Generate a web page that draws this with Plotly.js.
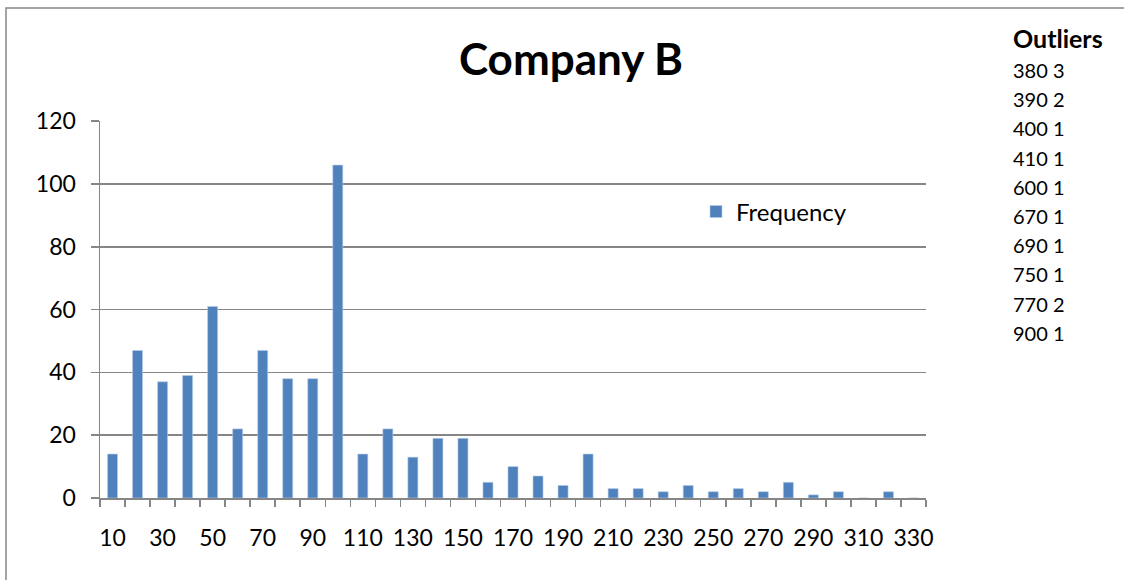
<!DOCTYPE html>
<html>
<head>
<meta charset="utf-8">
<script src="https://cdn.plot.ly/plotly-3.0.1.min.js"></script>
<style>
  html, body { margin: 0; padding: 0; background: #ffffff; }
  #chart { width: 1124px; height: 580px; }
</style>
</head>
<body>
<div id="chart"></div>
<script>
// Histogram bins (upper edge of each 10-wide bin) and their counts
const bins = [10, 20, 30, 40, 50, 60, 70, 80, 90, 100, 110, 120, 130, 140, 150, 160, 170,
              180, 190, 200, 210, 220, 230, 240, 250, 260, 270, 280, 290, 300, 310, 320, 330];
const frequency = [14, 47, 37, 39, 61, 22, 47, 38, 38, 106, 14, 22, 13, 19, 19, 5, 10,
                   7, 4, 14, 3, 3, 2, 4, 2, 3, 2, 5, 1, 2, 0, 2, 0];

// Values beyond the charted range, listed beside the chart
const outlierValues = [380, 390, 400, 410, 600, 670, 690, 750, 770, 900];
const outlierCounts = [3, 2, 1, 1, 1, 1, 1, 1, 2, 1];

const tickLabels = bins.filter((b, i) => i % 2 === 0);

const W = 1124, H = 580;
const M = { l: 100, r: 198, t: 121, b: 82 };
const plotW = W - M.l - M.r, plotH = H - M.t - M.b;
const px = x => (x - M.l) / plotW;        // page px -> paper x
const py = y => (H - M.b - y) / plotH;    // page px -> paper y

const FONT = 'Lato, "Open Sans", sans-serif';
const GRID = '#868686';

const annotations = [{
  xref: 'paper', yref: 'paper', x: px(1011), y: py(38),
  xanchor: 'left', yanchor: 'middle', showarrow: false,
  text: '<b>Outliers</b>', font: { family: FONT, size: 25, color: '#000' }
}];
outlierValues.forEach((v, i) => {
  annotations.push({
    xref: 'paper', yref: 'paper', x: px(1011), y: py(70 + i * 29.2),
    xanchor: 'left', yanchor: 'middle', showarrow: false,
    text: v + ' ' + outlierCounts[i], font: { family: FONT, size: 20, color: '#000' }
  });
});

const data = [{
  type: 'bar',
  name: 'Frequency',
  x: bins,
  y: frequency,
  width: 4,
  marker: { color: '#4F81BD', line: { color: '#B9CDE5', width: 0.6 } },
  hoverinfo: 'x+y'
}];

const layout = {
  width: W, height: H,
  margin: M,
  paper_bgcolor: '#ffffff', plot_bgcolor: '#ffffff',
  font: { family: FONT, color: '#000' },
  title: {
    text: '<b>Company B</b>',
    x: 571 / W, xref: 'container', xanchor: 'center',
    y: 1 - 60 / H, yref: 'container', yanchor: 'middle',
    font: { family: FONT, size: 44, color: '#000' }
  },
  showlegend: true,
  legend: {
    x: px(696), y: py(212), xanchor: 'left', yanchor: 'middle',
    bgcolor: 'rgba(0,0,0,0)', font: { family: FONT, size: 24, color: '#000' }
  },
  bargap: 0,
  xaxis: {
    type: 'linear',
    range: [5, 335],
    tickmode: 'array',
    tickvals: tickLabels,
    ticktext: tickLabels.map(String),
    ticks: 'outside', ticklen: 0,
    ticklabelstandoff: 19,
    tickfont: { family: FONT, size: 23, color: '#000' },
    showgrid: false, zeroline: false,
    showline: true, linecolor: GRID, linewidth: 1.5,
    minor: { tick0: 5, dtick: 10, ticks: 'outside', ticklen: 7, tickcolor: GRID, tickwidth: 1.5, showgrid: false },
    fixedrange: true
  },
  yaxis: {
    range: [0, 120.05],
    tickmode: 'linear', tick0: 0, dtick: 20,
    ticks: 'outside', ticklen: 8, tickcolor: GRID, tickwidth: 1.5,
    ticklabelstandoff: 10,
    tickfont: { family: FONT, size: 23, color: '#000' },
    showgrid: true, gridcolor: GRID, gridwidth: 1.5,
    zeroline: false,
    showline: true, linecolor: GRID, linewidth: 1.5,
    fixedrange: true
  },
  shapes: [{
    type: 'rect', xref: 'paper', yref: 'paper',
    x0: px(6), y0: py(8), x1: px(1200), y1: py(640),
    line: { color: GRID, width: 1.5 }, fillcolor: 'rgba(0,0,0,0)', layer: 'below'
  }],
  annotations: annotations
};

Plotly.newPlot('chart', data, layout, { displayModeBar: false, staticPlot: true });
</script>
</body>
</html>
